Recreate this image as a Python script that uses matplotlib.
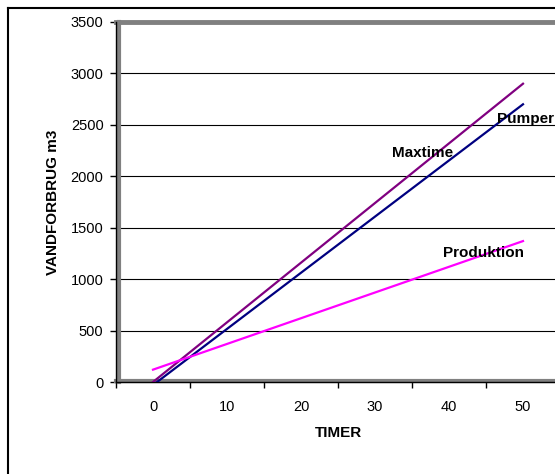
import matplotlib
matplotlib.use("Agg")
import matplotlib.pyplot as plt
from matplotlib.lines import Line2D

plt.rcParams['font.family'] = ['Liberation Sans', 'DejaVu Sans']

# Data
timer = [0, 50]
maxtime = [0, 2900]
pumper = [-30, 2700]
produktion = [120, 1370]
x_ticks = [0, 10, 20, 30, 40, 50]
y_ticks = [0, 500, 1000, 1500, 2000, 2500, 3000, 3500]
series_labels = ["Maxtime", "Pumper", "Produktion"]
label_pos = [(36.4, 2226), (50.3, 2557), (44.6, 1254)]

W, H = 555, 474
fig = plt.figure(figsize=(W / 100, H / 100), dpi=100)

# outer chart border (left and top visible)
fig.add_artist(Line2D([8 / W, 8 / W], [0, 1 - 8 / H], color='black', lw=1.5, transform=fig.transFigure))
fig.add_artist(Line2D([8 / W, 1], [1 - 8 / H, 1 - 8 / H], color='black', lw=1.5, transform=fig.transFigure))

ax = fig.add_axes([116 / W, (H - 382) / H, 444 / W, 360 / H])
ax.set_xlim(-5, 55)
ax.set_ylim(0, 3500)

for yv in y_ticks[1:-1]:
    ax.axhline(yv, color='black', lw=0.8, zorder=1)

ax.plot(timer, maxtime, color='#800080', lw=1.6, zorder=3)
ax.plot(timer, pumper, color='#000080', lw=1.6, zorder=3)
ax.plot(timer, produktion, color='#FF00FF', lw=1.6, zorder=3)

for lab, (lx, ly) in zip(series_labels, label_pos):
    ax.text(lx, ly, lab, ha='center', va='center', fontsize=11, fontweight='bold', color='black', zorder=4)

# walls
ax.axhline(3500, color='#808080', lw=3.5, zorder=2, clip_on=False)
ax.plot([0.006, 0.006], [0, 1], transform=ax.transAxes, color='#808080', lw=3, zorder=2, clip_on=False)
ax.plot([0, 1], [0.004, 0.004], transform=ax.transAxes, color='#808080', lw=3, zorder=2, clip_on=False)

for s in ['top', 'right']:
    ax.spines[s].set_visible(False)
for s in ['left', 'bottom']:
    ax.spines[s].set_color('black')
    ax.spines[s].set_linewidth(1.0)

ax.set_yticks(y_ticks)
ax.set_yticklabels([str(v) for v in y_ticks], fontsize=10.5)
ax.tick_params(axis='y', direction='out', length=4, width=1, pad=5)

ax.set_xticks(x_ticks)
ax.set_xticklabels([str(v) for v in x_ticks], fontsize=10.5)
ax.tick_params(axis='x', which='major', length=0, pad=13)
ax.set_xticks([-5, 5, 15, 25, 35, 45, 55], minor=True)
ax.tick_params(axis='x', which='minor', direction='out', length=4, width=1)

ax.set_ylabel("VANDFORBRUG m3", fontsize=11, fontweight='bold')
ax.set_xlabel("TIMER", fontsize=11, fontweight='bold')
ax.xaxis.set_label_coords((338 - 116) / 444, -(433 - 382) / 360)
ax.yaxis.set_label_coords(-(116 - 53) / 444, 0.5)
ax.yaxis.label.set_va('center')
ax.xaxis.label.set_va('center')

fig.savefig("out.png", dpi=100)
